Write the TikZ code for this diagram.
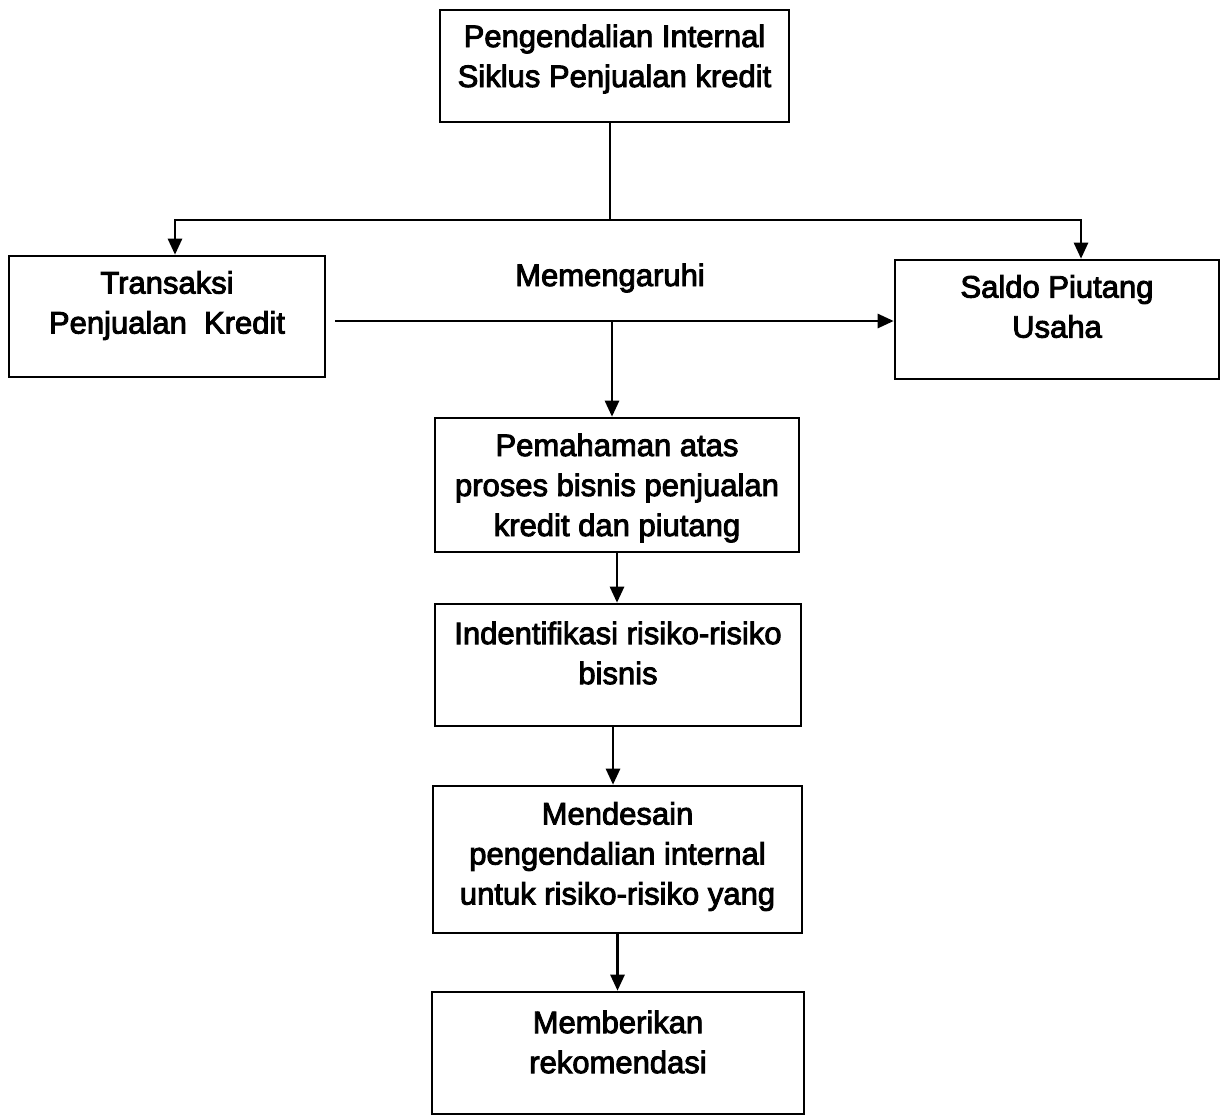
\documentclass[tikz,border=0pt]{standalone}
\usepackage{fontspec}
\setmainfont{Liberation Sans}[FakeBold=3]
\usetikzlibrary{arrows.meta}
\tikzset{
  pic box/.style={draw=black, line width=2.6pt, inner sep=0pt},
  pic text/.style={align=center, inner sep=0pt, font=\fontsize{31}{40}\selectfont},
  pic line/.style={draw=black, line width=2.6pt},
  pic arrow/.style={draw=black, line width=2.6pt, -{Triangle[length=16pt,width=14pt]}},
}
\begin{document}
\begin{tikzpicture}[x=1pt,y=-1pt]
\useasboundingbox (0,0) rectangle (1222,1117);
% boxes
\node[pic box,minimum width=349,minimum height=112](top)at(614.5,66){};
\node[pic text](top-text)at([yshift=7pt]top.center){Pengendalian Internal\\Siklus Penjualan kredit};
\node[pic box,minimum width=316,minimum height=121](trans)at(167,316.5){};
\node[pic text](trans-text)at([yshift=11pt]trans.center){Transaksi\\Penjualan~ Kredit};
\node[pic box,minimum width=324,minimum height=119](saldo)at(1057,319.5){};
\node[pic text](saldo-text)at([yshift=13pt]saldo.center){Saldo Piutang\\Usaha};
\node[pic box,minimum width=364,minimum height=134](paham)at(617,485){};
\node[pic text](paham-text)at([yshift=-3pt]paham.center){Pemahaman atas\\proses bisnis penjualan\\kredit dan piutang};
\node[pic box,minimum width=366,minimum height=122](risk)at(618,665){};
\node[pic text](risk-text)at([yshift=12pt]risk.center){Indentifikasi risiko-risiko\\bisnis};
\node[pic box,minimum width=369,minimum height=147](design)at(617.5,859.5){};
\node[pic text](design-text)at([yshift=3pt]design.center){Mendesain\\pengendalian internal\\untuk risiko-risiko yang};
\node[pic box,minimum width=372,minimum height=122](recom)at(618,1053){};
\node[pic text](recom-text)at([yshift=11pt]recom.center){Memberikan\\rekomendasi};
\node[pic text](affect)at(610,278){Memengaruhi};
% connectors
\coordinate(split)at(610,220);\coordinate(left end)at(175,220);\coordinate(right end)at(1081,220);
\draw[pic line](top.south -| split)--(split);
\draw[pic arrow](split)--(left end)--(left end |- trans.north);
\draw[pic arrow](split)--(right end)--(right end |- saldo.north);
\coordinate(flow start)at(335,321);\coordinate(branch)at(612,321);
\draw[pic arrow](flow start)--(flow start -| saldo.west);
\draw[pic arrow](branch)--(branch |- paham.north);
\draw[pic arrow](paham.south)--(paham.south |- risk.north);
\draw[pic arrow]([xshift=-5pt]risk.south)--([xshift=-5pt]risk.south |- design.north);
\draw[pic arrow](design.south)--(design.south |- recom.north);
\end{tikzpicture}
\end{document}
